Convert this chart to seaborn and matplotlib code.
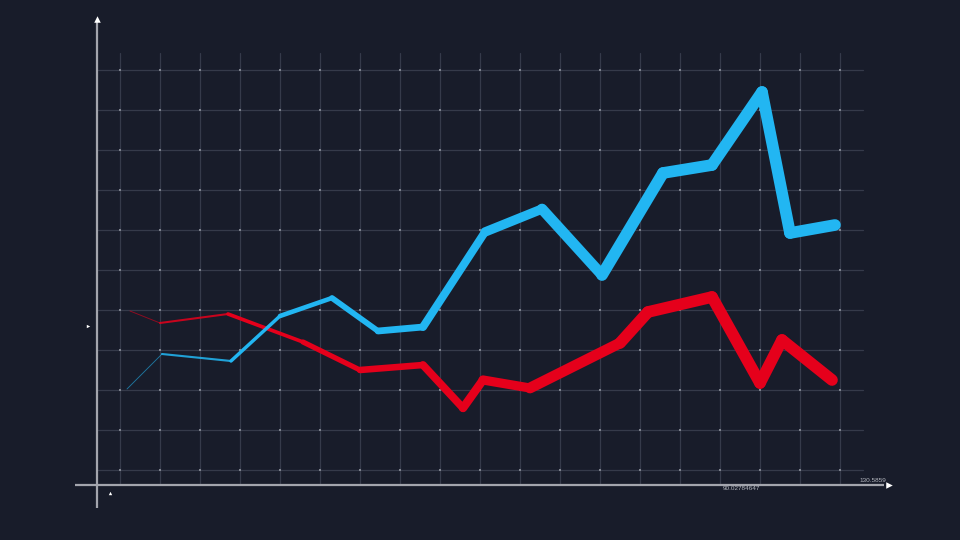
import numpy as np
import pandas as pd
import matplotlib
matplotlib.use("Agg")
import matplotlib.pyplot as plt
import seaborn as sns

# ---- data (grid units: one cell = 1) ----
blue_x = [0.175, 1.05, 2.775, 4.0, 5.3, 6.45, 7.575, 9.125, 10.55, 12.05, 13.575, 14.8, 16.05, 16.75, 17.875]
blue_y = [2.025, 2.9, 2.725, 3.85, 4.3, 3.475, 3.575, 5.95, 6.525, 4.875, 7.425, 7.625, 9.45, 5.925, 6.125]

red_x = [0.25, 1.0, 2.7, 4.575, 6.0, 7.575, 8.575, 9.075, 10.25, 12.5, 13.2, 14.8, 16.0, 16.55, 17.8]
red_y = [3.975, 3.675, 3.9, 3.2, 2.5, 2.625, 1.55, 2.25, 2.05, 3.175, 3.95, 4.325, 2.175, 3.25, 2.25]

grid_cols = list(range(0, 19))
grid_rows = list(range(0, 11))

x_labels = ["90.02784647", "130.5859"]
x_label_pos = [15.075, 18.475]

BG = "#181c2a"
GRID = "#353a4a"
DOT = "#80848f"
AXIS = "#a3a5ad"
BLUE = "#22b6f2"
RED = "#e5001b"

sns.set_style("dark", {"axes.facecolor": BG, "figure.facecolor": BG})
plt.rcParams["font.family"] = ["Liberation Sans", "DejaVu Sans"]

fig = plt.figure(figsize=(9.6, 5.4), dpi=100)
ax = fig.add_axes([0, 0, 1, 1])
ax.set_facecolor(BG)
ax.set_xlim(-3, 21)
ax.set_ylim(-1.75, 11.75)
ax.axis("off")

# grid
for gx in grid_cols:
    ax.plot([gx, gx], [-0.375, 10.425], color=GRID, lw=0.9, zorder=1)
for gy in grid_rows:
    ax.plot([-0.575, 18.575], [gy, gy], color=GRID, lw=0.9, zorder=1)
gxx, gyy = np.meshgrid(grid_cols, grid_rows)
ax.scatter(gxx.ravel(), gyy.ravel(), marker="s", s=4, color=DOT, linewidths=0, zorder=2)

# axes with arrow heads
ax.plot([-0.575, -0.575], [-0.95, 11.2], color=AXIS, lw=1.6, zorder=3, solid_capstyle="butt")
ax.plot([-1.125, 19.1], [-0.375, -0.375], color=AXIS, lw=1.6, zorder=3, solid_capstyle="butt")
ax.scatter([-0.575], [11.28], marker="^", s=22, color="white", linewidths=0, zorder=4)
ax.scatter([19.22], [-0.375], marker=">", s=22, color="white", linewidths=0, zorder=4)
ax.scatter([-0.8], [3.6], marker=">", s=6, color="white", linewidths=0, zorder=4)
ax.scatter([-0.25], [-0.575], marker="^", s=6, color="white", linewidths=0, zorder=4)

for lbl, px, py in zip(x_labels, x_label_pos, [-0.475, -0.25]):
    ax.text(px, py, lbl, color="#b3b6be", fontsize=4.6, ha="left", va="center")


def width_at(x):
    # stroke grows from a hairline on the left to a thick band on the right
    return min(8.4, 0.25 + 0.66 * x)


def alpha_at(x):
    return min(1.0, 0.45 + 0.22 * x)


def draw_series(xs, ys, color, z):
    df = pd.DataFrame({"x": xs, "y": ys})
    for i in range(len(df) - 1):
        seg = df.iloc[i:i + 2]
        xm = seg["x"].mean()
        sns.lineplot(data=seg, x="x", y="y", ax=ax, color=color, sort=False,
                     lw=width_at(xm), alpha=alpha_at(xm), zorder=z,
                     solid_capstyle="round", solid_joinstyle="round")


draw_series(red_x, red_y, RED, 5)
draw_series(blue_x, blue_y, BLUE, 6)

ax.set_xlim(-3, 21)
ax.set_ylim(-1.75, 11.75)
ax.axis("off")
fig.savefig("out.png", dpi=100, facecolor=BG)
